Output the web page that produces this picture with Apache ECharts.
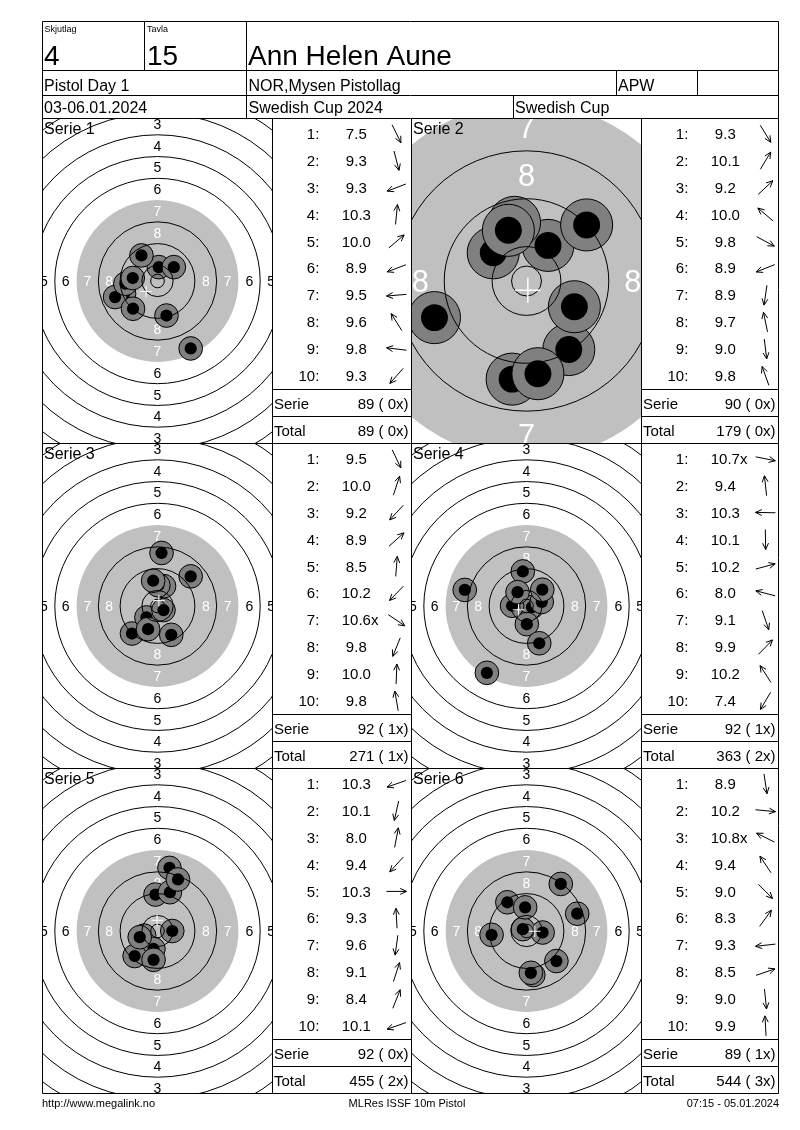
<!DOCTYPE html>
<html><head><meta charset="utf-8">
<script src="https://cdn.jsdelivr.net/npm/echarts@6/dist/echarts.min.js"></script>
<style>html,body{margin:0;padding:0;background:#fff}#c{width:800px;height:1130px}</style>
</head><body><div id="c"></div>
<script>
// ---------------- data ----------------
const squadLabel = 'Skjutlag', squad = '4';
const laneLabel = 'Tavla', lane = '15';
const shooterName = 'Ann Helen Aune';
const eventName = 'Pistol Day 1';
const club = 'NOR,Mysen Pistollag';
const shooterClass = 'APW';
const dates = '03-06.01.2024';
const competition = 'Swedish Cup 2024';
const cupName = 'Swedish Cup';
const footerLeft = 'http://www.megalink.no';
const footerMid = 'MLRes ISSF 10m Pistol';
const footerRight = '07:15 - 05.01.2024';

const serieNames = ['Serie 1', 'Serie 2', 'Serie 3', 'Serie 4', 'Serie 5', 'Serie 6'];

const scores1 = [7.5, 9.3, 9.3, 10.3, 10.0, 8.9, 9.5, 9.6, 9.8, 9.3];
const scores2 = [9.3, 10.1, 9.2, 10.0, 9.8, 8.9, 8.9, 9.7, 9.0, 9.8];
const scores3 = [9.5, 10.0, 9.2, 8.9, 8.5, 10.2, 10.6, 9.8, 10.0, 9.8];
const scores4 = [10.7, 9.4, 10.3, 10.1, 10.2, 8.0, 9.1, 9.9, 10.2, 7.4];
const scores5 = [10.3, 10.1, 8.0, 9.4, 10.3, 9.3, 9.6, 9.1, 8.4, 10.1];
const scores6 = [8.9, 10.2, 10.8, 9.4, 9.0, 8.3, 9.3, 8.5, 9.0, 9.9];
const innerTens = [[], [], [6], [0], [], [2]]; // shot indexes marked "x"

// shot centres in mm from target centre (x right, y up)
const shots1 = [[12.2,-24.8],[3.3,-12.7],[-12.3,-4.7],[0.5,5.1],[6.0,5.1],[-15.6,-5.9],[-11.8,-1.0],[-5.9,9.4],[-9.1,1.1],[-9.0,-10.2]];
const shots2 = [[7.07,-11.45],[3.59,5.95],[10.05,9.37],[-5.56,4.71],[8.0,-4.3],[-15.38,-6.12],[-2.4,-16.4],[-2.0,9.8],[1.91,-15.49],[-3.03,8.47]];
const shots3 = [[5.06,-10.6],[2.4,7.3],[-9.38,-10.12],[12.2,10.9],[1.48,19.5],[-4.07,-4.2],[2.2,-1.5],[-3.46,-8.52],[0.3,7.6],[-1.6,9.3]];
const shots4 = [[2.0,-0.4],[-1.36,12.7],[-5.3,0.1],[0.12,-6.67],[5.6,1.5],[-22.7,5.9],[4.69,-13.7],[5.8,6.0],[-3.3,5.1],[-14.57,-24.57]];
const shots5 = [[-4.9,-1.7],[-1.5,-6.6],[4.4,23.2],[-8.4,-9.2],[5.43,0.0],[-0.74,13.4],[-1.45,-10.6],[4.57,14.26],[7.53,18.95],[-6.54,-2.28]];
const shots6 = [[2.5,-16.2],[5.93,-0.56],[-1.36,0.68],[-7.04,10.56],[11.0,-11.05],[12.6,17.3],[-12.84,-1.42],[18.64,6.36],[1.6,-15.37],[-0.5,8.7]];

// ISSF 10m pistol target geometry (mm)
const ringNumbers = [1, 2, 3, 4, 5, 6, 7, 8, 9, 10];
const ringRadiiMm = [77.75, 69.75, 61.75, 53.75, 45.75, 37.75, 29.75, 21.75, 13.75, 5.75];
const innerTenRadiusMm = 2.5;
const blackRadiusMm = 29.75;
const labelRings = [1, 2, 3, 4, 5, 6, 7, 8];
const labelRadiiMm = [73.75, 65.75, 57.75, 49.75, 41.75, 33.75, 25.75, 17.75];

const allScores = [scores1, scores2, scores3, scores4, scores5, scores6];
const allShots = [shots1, shots2, shots3, shots4, shots5, shots6];

// ---------------- layout / style ----------------
const FONT = "'Liberation Sans', Arial, Helvetica, sans-serif";
const PX_PER_MM = 2.72;
const panelZoom = [1, 2.2, 1, 1, 1, 1];
const colX = [43, 412], panelW = 229;
const rowY = [119, 444, 769], panelH = 324;
const rowTops = [118.5, 443.5, 768.5];
const tableL = [272.5, 641.5], tableR = [411.5, 778.5];
const shotHaloMm = 4.35, pelletMm = 2.25, labelFontMm = 5.15, crossMm = 2.1;
const GREY = '#c0c0c0', SHOT = '#808080';
const TY = 1.5; // text vertical nudge

const chart = echarts.init(document.getElementById('c'), null, {renderer: 'canvas', width: 800, height: 1130});

function clipGroup(params, children) {
  const cs = params.coordSys;
  return {type: 'group', children: children,
    clipPath: {type: 'rect', shape: {x: cs.x, y: cs.y, width: cs.width, height: cs.height}}};
}
function renderDisk(params, api) {
  const c = api.coord([api.value(0), api.value(1)]);
  const r = api.size([api.value(2), 0])[0];
  return clipGroup(params, [{type: 'circle', shape: {cx: c[0], cy: c[1], r: r}, style: {fill: GREY}}]);
}
function renderRing(params, api) {
  const rv = api.value(2);
  if (rv === blackRadiusMm) return null;
  const c = api.coord([api.value(0), api.value(1)]);
  const r = api.size([rv, 0])[0];
  return clipGroup(params, [{type: 'circle', shape: {cx: c[0], cy: c[1], r: r}, style: {fill: 'none', stroke: '#000', lineWidth: 1}}]);
}
function renderLabels(params, api) {
  const n = api.value(0), rv = api.value(1);
  const c = api.coord([0, 0]);
  const r = api.size([rv, 0])[0];
  const fs = api.size([labelFontMm, 0])[0];
  const col = rv < blackRadiusMm ? '#ffffff' : '#000000';
  const dy = fs * 0.08;
  const pts = [[c[0], c[1] - r], [c[0], c[1] + r], [c[0] - r, c[1]], [c[0] + r, c[1]]];
  return clipGroup(params, pts.map(p => ({type: 'text', x: p[0], y: p[1] + dy,
    style: {text: String(n), fill: col, fontSize: fs, fontFamily: FONT,
      align: 'center', verticalAlign: 'middle', textAlign: 'center', textVerticalAlign: 'middle'}})));
}
function renderShot(params, api) {
  const c = api.coord([api.value(0), api.value(1)]);
  const rh = api.size([shotHaloMm, 0])[0];
  const rb = api.size([pelletMm, 0])[0];
  const i = params.dataIndex;
  return clipGroup(params, [
    {type: 'circle', z2: 2 * i, shape: {cx: c[0], cy: c[1], r: rh}, style: {fill: SHOT, stroke: '#000', lineWidth: 1}},
    {type: 'circle', z2: 2 * i + 1, shape: {cx: c[0], cy: c[1], r: rb}, style: {fill: '#000'}}
  ]);
}
function renderCross(params, api) {
  const c = api.coord([api.value(0), api.value(1)]);
  const a = api.size([crossMm, 0])[0];
  const st = {stroke: '#ffffff', lineWidth: a > 8 ? 1.5 : 1};
  return clipGroup(params, [
    {type: 'line', shape: {x1: c[0] - a, y1: c[1], x2: c[0] + a, y2: c[1]}, style: st},
    {type: 'line', shape: {x1: c[0], y1: c[1] - a, x2: c[0], y2: c[1] + a}, style: st}
  ]);
}
function mpi(shots) {
  let sx = 0, sy = 0;
  shots.forEach(s => { sx += s[0]; sy += s[1]; });
  return [sx / shots.length, sy / shots.length];
}

const grids = [], xAxes = [], yAxes = [], series = [];
for (let p = 0; p < 6; p++) {
  const col = p % 2, row = Math.floor(p / 2);
  const s = PX_PER_MM * panelZoom[p];
  grids.push({left: colX[col], top: rowY[row], width: panelW, height: panelH});
  xAxes.push({type: 'value', gridIndex: p, min: -panelW / 2 / s, max: panelW / 2 / s, show: false});
  yAxes.push({type: 'value', gridIndex: p, min: -panelH / 2 / s, max: panelH / 2 / s, show: false});
  const common = {type: 'custom', coordinateSystem: 'cartesian2d', xAxisIndex: p, yAxisIndex: p, silent: true, animation: false};
  series.push(Object.assign({}, common, {z: 1, data: [[0, 0, blackRadiusMm]], renderItem: renderDisk}));
  series.push(Object.assign({}, common, {z: 2, data: labelRings.map((n, i) => [n, labelRadiiMm[i]]), renderItem: renderLabels}));
  series.push(Object.assign({}, common, {z: 3, data: allShots[p], renderItem: renderShot}));
  series.push(Object.assign({}, common, {z: 4, data: ringRadiiMm.concat([innerTenRadiusMm]).map(r => [0, 0, r]), renderItem: renderRing}));
  series.push(Object.assign({}, common, {z: 5, data: [mpi(allShots[p])], renderItem: renderCross}));
}

// ---------------- graphic: frame, header, tables ----------------
const G = [];
function txt(x, y, text, size, align) {
  G.push({type: 'text', z: 100, x: x, y: y + TY, silent: true,
    style: {text: text, fill: '#000', fontSize: size, fontFamily: FONT,
      align: align || 'left', verticalAlign: 'middle', textAlign: align || 'left', textVerticalAlign: 'middle'}});
}
function hl(x1, x2, y) { G.push({type: 'line', z: 100, silent: true, shape: {x1: x1, y1: y, x2: x2, y2: y}, style: {stroke: '#000', lineWidth: 1}}); }
function vl(x, y1, y2) { G.push({type: 'line', z: 100, silent: true, shape: {x1: x, y1: y1, x2: x, y2: y2}, style: {stroke: '#000', lineWidth: 1}}); }

[21.5, 70.5, 95.5, 118.5, 443.5, 768.5, 1093.5].forEach(y => hl(42.5, 778.5, y));
rowTops.forEach(t => { [0, 1].forEach(c => { hl(tableL[c], tableR[c], t + 271); hl(tableL[c], tableR[c], t + 298); }); });
vl(42.5, 21.5, 1093.5); vl(778.5, 21.5, 1093.5);
vl(144.5, 21.5, 70.5); vl(246.5, 21.5, 118.5);
vl(616.5, 70.5, 95.5); vl(697.5, 70.5, 95.5); vl(513.5, 95.5, 118.5);
vl(272.5, 118.5, 1093.5); vl(411.5, 118.5, 1093.5); vl(641.5, 118.5, 1093.5);

txt(44.5, 28, squadLabel, 9); txt(147, 28, laneLabel, 9);
txt(44, 55.5, squad, 28); txt(147, 55.5, lane, 28); txt(248, 55.5, shooterName, 28);
txt(44, 85.5, eventName, 16); txt(248.5, 85.5, club, 16); txt(618, 85.5, shooterClass, 16);
txt(44, 107.5, dates, 16); txt(248.5, 107.5, competition, 16); txt(515, 107.5, cupName, 16);
txt(42, 1102, footerLeft, 11); txt(407, 1102, footerMid, 11, 'center'); txt(779, 1102, footerRight, 11, 'right');

const mctx = document.createElement('canvas').getContext('2d');
mctx.font = '15px ' + FONT;

function arrow(cx, cy, x, y) {
  const th = Math.atan2(y, x);
  const dx = Math.cos(th), dy = -Math.sin(th);
  const L = 10;
  const tip = [cx + dx * L, cy + dy * L], tail = [cx - dx * L, cy - dy * L];
  const back = Math.atan2(-dy, -dx), ha = 25 * Math.PI / 180, hlen = 7;
  const h1 = [tip[0] + hlen * Math.cos(back + ha), tip[1] + hlen * Math.sin(back + ha)];
  const h2 = [tip[0] + hlen * Math.cos(back - ha), tip[1] + hlen * Math.sin(back - ha)];
  const st = {stroke: '#000', lineWidth: 1, fill: null};
  G.push({type: 'polyline', z: 100, silent: true, shape: {points: [tail, tip]}, style: st});
  G.push({type: 'polyline', z: 100, silent: true, shape: {points: [h1, tip, h2]}, style: st});
}

let runTotal = 0, runX = 0;
for (let p = 0; p < 6; p++) {
  const col = p % 2, row = Math.floor(p / 2);
  const tl = tableL[col], tr = tableR[col], top = rowTops[row];
  txt(colX[col] + 1, rowY[row] + 9.5, serieNames[p], 16);
  let serie = 0, xs = 0;
  allScores[p].forEach((sc, i) => {
    const y = top + 14.8 + 26.9 * i;
    const isX = innerTens[p].indexOf(i) >= 0;
    const s = sc.toFixed(1);
    txt(tl + 46.8, y, (i + 1) + ':', 15, 'right');
    txt(tl + 83.8, y, s, 15, 'center');
    if (isX) txt(tl + 83.8 + mctx.measureText(s).width / 2, y, 'x', 15, 'left');
    arrow(tl + 124, y + 0.5, allShots[p][i][0], allShots[p][i][1]);
    serie += Math.floor(sc + 1e-9);
    if (isX) xs++;
  });
  runTotal += serie; runX += xs;
  const fmt = (v, x) => v + ' (' + (x < 10 ? ' ' : '') + x + 'x)';
  txt(tl + 1.5, top + 285, 'Serie', 15);
  txt(tr - 3, top + 285, fmt(serie, xs), 15, 'right');
  txt(tl + 1.5, top + 311.5, 'Total', 15);
  txt(tr - 3, top + 311.5, fmt(runTotal, runX), 15, 'right');
}

chart.setOption({
  animation: false,
  backgroundColor: '#ffffff',
  grid: grids, xAxis: xAxes, yAxis: yAxes,
  series: series,
  graphic: {elements: G}
});
</script>
</body></html>
